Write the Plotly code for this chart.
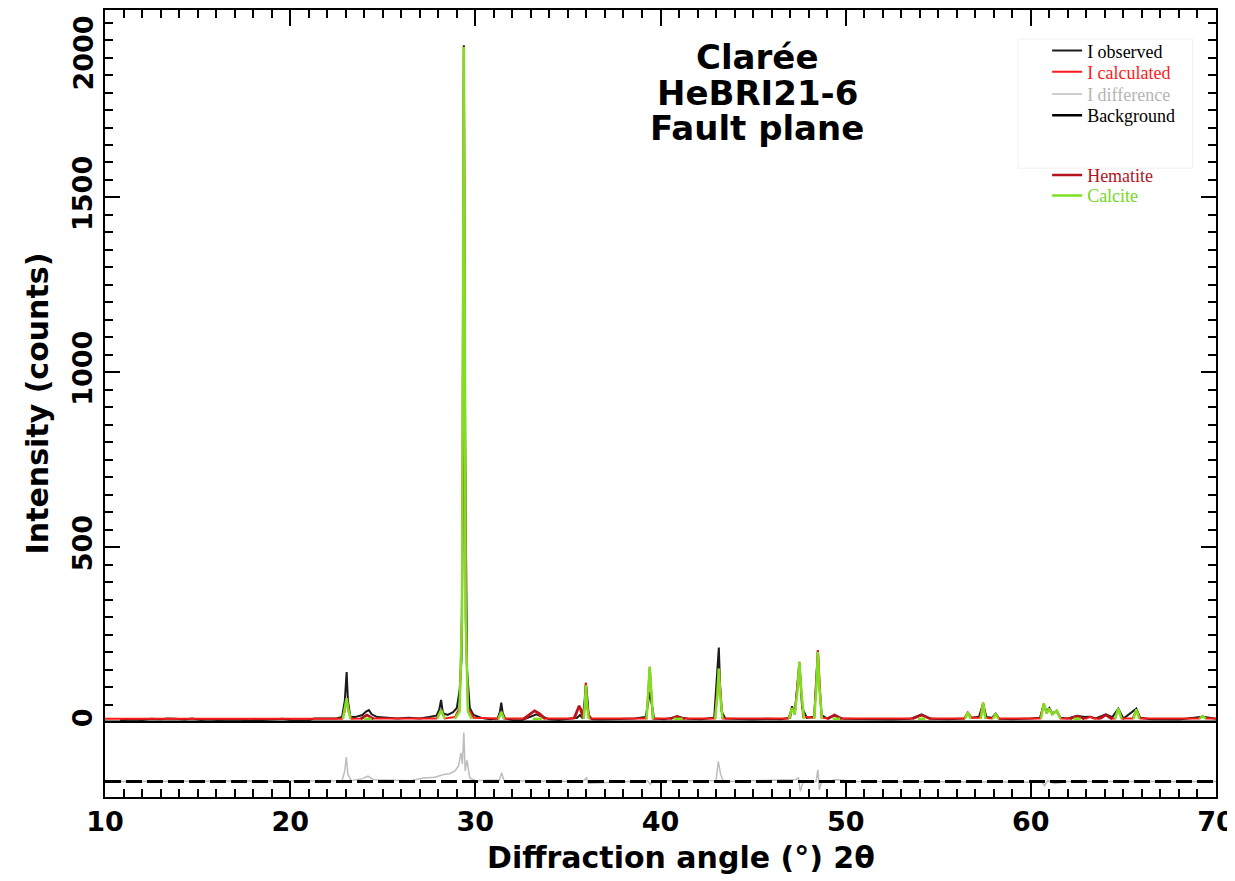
import plotly.graph_objects as go

# ---------------- data ----------------
obs_x = [10.8, 11.5, 12.0, 12.5, 13.0, 13.4, 13.8, 14.3, 14.7, 15.2, 15.6, 16.1, 17.0, 17.8, 18.5, 19.2, 19.6,
         20.0, 21.0, 21.3, 22.0, 22.5, 22.8, 22.95, 23.05, 23.12, 23.25, 23.5, 23.9, 24.1, 24.25, 24.4, 24.7,
         25.2, 25.8, 26.4, 27.0, 27.5, 27.9, 28.05, 28.15, 28.25, 28.5, 28.8, 29.0, 29.15, 29.25, 29.33, 29.38,
         29.45, 29.55, 29.7, 29.9, 30.3, 30.8, 31.2, 31.33, 31.4, 31.48, 31.6, 32.0, 32.5, 33.0, 33.3, 33.6,
         34.0, 34.5, 35.0, 35.5, 35.65, 35.8, 35.9, 35.97, 36.05, 36.12, 36.3, 36.8, 37.4, 38.0, 38.6, 39.2,
         39.35, 39.43, 39.5, 39.65, 40.2, 40.9, 41.5, 42.2, 42.9, 43.05, 43.15, 43.22, 43.3, 43.5, 44.2, 45.0,
         45.8, 46.5, 47.0, 47.1, 47.25, 47.5, 47.65, 47.9, 48.3, 48.45, 48.5, 48.58, 48.7, 49.0, 49.4, 49.9,
         51.0, 52.5, 53.5, 54.1, 54.6, 55.5, 56.4, 56.6, 56.8, 57.2, 57.42, 57.6, 57.9, 58.1, 58.3, 59.0,
         60.0, 60.5, 60.7, 60.85, 61.0, 61.15, 61.4, 61.6, 62.0, 62.5, 62.9, 63.2, 63.5, 64.05, 64.4, 64.72,
         65.0, 65.7, 65.9, 66.5, 68.0, 69.28, 70.0]
obs_y = [5, 7, 6, 9, 8, 10, 9, 7, 10, 6, 8, 6, 7, 5, 6, 8, 9,
         6, 5, 10, 9, 10, 14, 60, 143, 60, 15, 14, 20, 30, 34, 22, 14,
         12, 10, 12, 10, 14, 18, 35, 63, 25, 20, 28, 40, 90, 176, 700, 1935,
         800, 150, 40, 20, 12, 8, 10, 30, 55, 25, 10, 6, 5, 15, 22, 15,
         8, 6, 8, 12, 20, 10, 60, 112, 68, 20, 8, 7, 8, 9, 10, 14,
         60, 86, 60, 10, 8, 14, 9, 8, 12, 120, 213, 100, 30, 10, 8, 7,
         9, 8, 12, 45, 25, 165, 40, 12, 15, 150, 205, 105, 20, 10, 18, 9,
         8, 7, 9, 22, 9, 8, 10, 25, 12, 15, 52, 14, 12, 24, 9, 8,
         10, 12, 50, 30, 40, 25, 30, 12, 10, 18, 14, 15, 10, 22, 14, 38,
         10, 38, 12, 8, 7, 15, 9]

calc_x = [10, 22.8, 22.95, 23.05, 23.15, 23.3, 23.9, 24.15, 24.4, 27.9, 28.15, 28.35, 28.9, 29.15, 29.28, 29.38,
          29.48, 29.6, 29.9, 31.25, 31.4, 31.55, 32.7, 33.2, 33.7, 35.3, 35.6, 35.8, 35.9, 35.97, 36.05, 36.2,
          39.25, 39.42, 39.58, 40.6, 40.9, 41.2, 42.95, 43.15, 43.35, 46.9, 47.1, 47.25, 47.5, 47.7, 48.3, 48.5,
          48.7, 49.1, 49.4, 49.7, 53.6, 54.1, 54.5, 56.4, 56.6, 56.8, 57.25, 57.42, 57.55, 57.9, 58.1, 58.3,
          60.5, 60.7, 60.85, 61.0, 61.15, 61.4, 61.6, 62.2, 62.5, 62.8, 63.0, 63.2, 63.4, 63.8, 64.05, 64.3,
          64.55, 64.72, 64.9, 65.5, 65.7, 65.9, 69.1, 69.28, 69.45, 70]
calc_y = [9, 9, 30, 68, 30, 9, 10, 20, 10, 10, 34, 10, 14, 40, 300, 1930,
          300, 40, 12, 10, 30, 10, 10, 32, 10, 10, 46, 12, 40, 112, 40, 10,
          10, 158, 10, 10, 16, 10, 10, 153, 10, 10, 40, 22, 172, 15, 12, 205,
          12, 10, 20, 10, 10, 20, 10, 10, 27, 12, 12, 55, 12, 10, 22, 10,
          10, 53, 25, 38, 22, 32, 10, 10, 17, 10, 10, 15, 10, 10, 20, 10,
          10, 39, 10, 10, 36, 10, 10, 17, 10, 10]

bg_x = [10, 70]
bg_y = [1, 1]

diff_offset = -170
diff_x = [10, 22.8, 22.95, 23.03, 23.12, 23.3, 23.9, 24.2, 24.5, 26.5, 27.2, 27.8, 28.3, 28.6, 28.9, 29.1, 29.22,
          29.3, 29.38, 29.45, 29.55, 29.7, 30.0, 31.3, 31.42, 31.55, 35.8, 36.0, 36.1, 39.3, 39.45, 39.6, 43.0,
          43.12, 43.25, 43.4, 47.3, 47.45, 47.55, 47.7, 48.4, 48.5, 48.58, 48.7, 49.5, 50.5, 60.6, 60.75, 60.9,
          61.3, 62.0, 70]
diff_y = [-170, -168, -140, -100, -150, -168, -162, -155, -165, -168, -160, -158, -150, -148, -140, -125, -88,
          -120, -30, -140, -110, -160, -168, -166, -145, -168, -170, -160, -175, -168, -178, -168, -168,
          -113, -150, -170, -165, -160, -198, -172, -170, -137, -194, -172, -165, -170, -172, -182, -168,
          -176, -170, -170]

hem_x = [23.8, 24.15, 24.5, None, 32.6, 33.0, 33.2, 33.45, 33.8, None, 35.35, 35.5, 35.6, 35.72, 35.85, None,
         40.5, 40.9, 41.3, None, 49.0, 49.4, 49.8, None, 53.6, 54.1, 54.6, None, 62.1, 62.5, 62.9, None,
         63.6, 64.05, 64.4]
hem_y = [9, 20, 9, None, 9, 25, 32, 25, 9, None, 9, 35, 46, 35, 9, None,
         9, 16, 9, None, 9, 20, 9, None, 9, 20, 9, None, 9, 17, 9, None,
         9, 20, 9]

cal_x = [22.85, 22.97, 23.05, 23.13, 23.25, None, 24.0, 24.4, None, 27.95, 28.15, 28.35, None,
         28.9, 29.15, 29.28, 29.38, 29.48, 29.6, 29.8, None, 31.25, 31.4, 31.55, None, 33.1, 33.6, None,
         35.85, 35.92, 35.97, 36.03, 36.12, None, 39.25, 39.35, 39.42, 39.5, 39.6, None, 40.7, 41.2, None,
         42.95, 43.08, 43.15, 43.22, 43.35, None, 46.95, 47.1, 47.25, 47.4, 47.5, 47.6, 47.75, None,
         48.3, 48.42, 48.5, 48.58, 48.72, None, 49.3, 49.7, None, 53.9, 54.3, None,
         56.45, 56.6, 56.75, None, 57.3, 57.42, 57.55, None, 57.95, 58.1, 58.25, None,
         60.55, 60.7, 60.85, 61.0, 61.15, 61.4, 61.6, None, 62.3, 62.7, None,
         64.55, 64.72, 64.9, None, 65.55, 65.7, 65.85, None, 69.1, 69.28, 69.45]
cal_y = [9, 40, 68, 40, 9, None, 9, 9, None, 9, 34, 9, None,
         9, 30, 300, 1930, 300, 30, 9, None, 9, 29, 9, None, 9, 9, None,
         9, 50, 105, 50, 9, None, 9, 90, 158, 90, 9, None, 9, 9, None,
         9, 80, 153, 80, 9, None, 9, 40, 22, 90, 172, 90, 9, None,
         9, 100, 200, 100, 9, None, 9, 9, None, 9, 9, None,
         9, 27, 9, None, 9, 55, 9, None, 9, 22, 9, None,
         9, 53, 25, 38, 22, 32, 9, None, 9, 9, None,
         9, 39, 9, None, 9, 36, 9, None, 9, 17, 9]

x_tickvals = [10, 15, 20, 25, 30, 35, 40, 45, 50, 55, 60, 65, 70]
x_ticktext = ["10", "", "20", "", "30", "", "40", "", "50", "", "60", "", "70"]
x_minor = list(range(10, 71))
y_tickvals = [0, 500, 1000, 1500, 2000]
# the top label is drawn separately (shifted down so it stays inside the page, as in the original)
y_ticktext = ["0", "500", "1000", "1500", ""]
y_top_label = "2000"
y_minor = list(range(0, 2001, 50))

x_title = "Diffraction angle (°) 2θ"
y_title = "Intensity (counts)"
title_lines = ["Clarée", "HeBRI21-6", "Fault plane"]
title_y = [0.940, 0.894, 0.850]

# legend entry vertical positions (paper units)
legend_y = {"legend": 0.948, "legend2": 0.921, "legend3": 0.893,
            "legend4": 0.866, "legend5": 0.790, "legend6": 0.764}
LEG_X = 0.848

# ---------------- figure ----------------
fig = go.Figure()
fig.add_trace(go.Scatter(x=bg_x, y=bg_y, mode="lines", line=dict(color="#000000", width=2.5),
                         name="Background", legend="legend4"))
fig.add_trace(go.Scatter(x=obs_x, y=obs_y, mode="lines", line=dict(color="#1a1a1a", width=2),
                         name="I observed", legend="legend"))
fig.add_trace(go.Scatter(x=calc_x, y=calc_y, mode="lines", line=dict(color="#ff1a1a", width=2),
                         name="<span style='color:#ff1a1a'>I calculated</span>", legend="legend2"))
fig.add_trace(go.Scatter(x=diff_x, y=diff_y, mode="lines", line=dict(color="#bdbdbd", width=1.5),
                         name="<span style='color:#b5b5b5'>I difference</span>", legend="legend3"))
fig.add_trace(go.Scatter(x=hem_x, y=hem_y, mode="lines", line=dict(color="#b5141e", width=2.5),
                         connectgaps=False,
                         name="<span style='color:#b5141e'>Hematite</span>", legend="legend5"))
fig.add_trace(go.Scatter(x=cal_x, y=cal_y, mode="lines", line=dict(color="#7fe021", width=2.5),
                         connectgaps=False,
                         name="<span style='color:#74d91c'>Calcite</span>", legend="legend6"))
fig.add_trace(go.Scatter(x=bg_x, y=[diff_offset, diff_offset], mode="lines",
                         line=dict(color="#000000", width=3, dash="16px,5px"), showlegend=False,
                         hoverinfo="skip"))

tick_font = dict(family="DejaVu Sans", size=27, color="#000000", weight="bold")
title_font = dict(family="DejaVu Sans", size=30, color="#000000", weight="bold")
axis_common = dict(showline=True, linecolor="#000000", linewidth=2, mirror="allticks", automargin=False,
                   ticks="inside", tickcolor="#000000", tickwidth=2, showgrid=False, zeroline=False,
                   ticklabeloverflow="allow", tickfont=tick_font)

legend_layout = {
    key: dict(x=LEG_X, y=yy, xanchor="left", yanchor="middle", bgcolor="rgba(0,0,0,0)", borderwidth=0,
              font=dict(family="Liberation Serif", size=18, color="#000000"))
    for key, yy in legend_y.items()
}

annotations = [dict(text=t, xref="paper", yref="paper", x=0.587, y=yy, xanchor="center", yanchor="middle",
                    showarrow=False,
                    font=dict(family="DejaVu Sans", size=34, color="#000000", weight="bold"))
               for t, yy in zip(title_lines, title_y)]
annotations.append(dict(text=y_top_label, xref="paper", yref="paper", x=-0.019, y=0.996,
                        xanchor="center", yanchor="top", textangle=-90, showarrow=False, font=tick_font))
annotations.append(dict(text=x_title, xref="paper", yref="paper", x=0.5185, y=-0.0775,
                        xanchor="center", yanchor="middle", showarrow=False, font=title_font))

# the page body adds an 8px margin, so size/margins compensate for it
fig.update_layout(
    width=1227, height=873,
    margin=dict(l=97, r=19, t=2, b=84),
    paper_bgcolor="white", plot_bgcolor="white",
    xaxis=dict(range=[10, 70], tickmode="array", tickvals=x_tickvals, ticktext=x_ticktext, ticklen=16,
               minor=dict(tickmode="array", tickvals=x_minor, ticks="inside", ticklen=8,
                          tickcolor="#000000", tickwidth=1.5),
               **axis_common),
    yaxis=dict(range=[-214.5, 2036], tickmode="array", tickvals=y_tickvals, ticktext=y_ticktext, ticklen=15,
               tickangle=-90,
               minor=dict(tickmode="array", tickvals=y_minor, ticks="inside", ticklen=8,
                          tickcolor="#000000", tickwidth=1.5),
               title=dict(text=y_title, standoff=10, font=title_font),
               **axis_common),
    shapes=[dict(type="rect", xref="paper", yref="paper", x0=0.822, x1=0.979, y0=0.799, y1=0.963,
                 line=dict(color="#f0f0f0", width=1), fillcolor="rgba(0,0,0,0)", layer="below")],
    annotations=annotations,
    **legend_layout,
)

fig.write_html("out.html")
